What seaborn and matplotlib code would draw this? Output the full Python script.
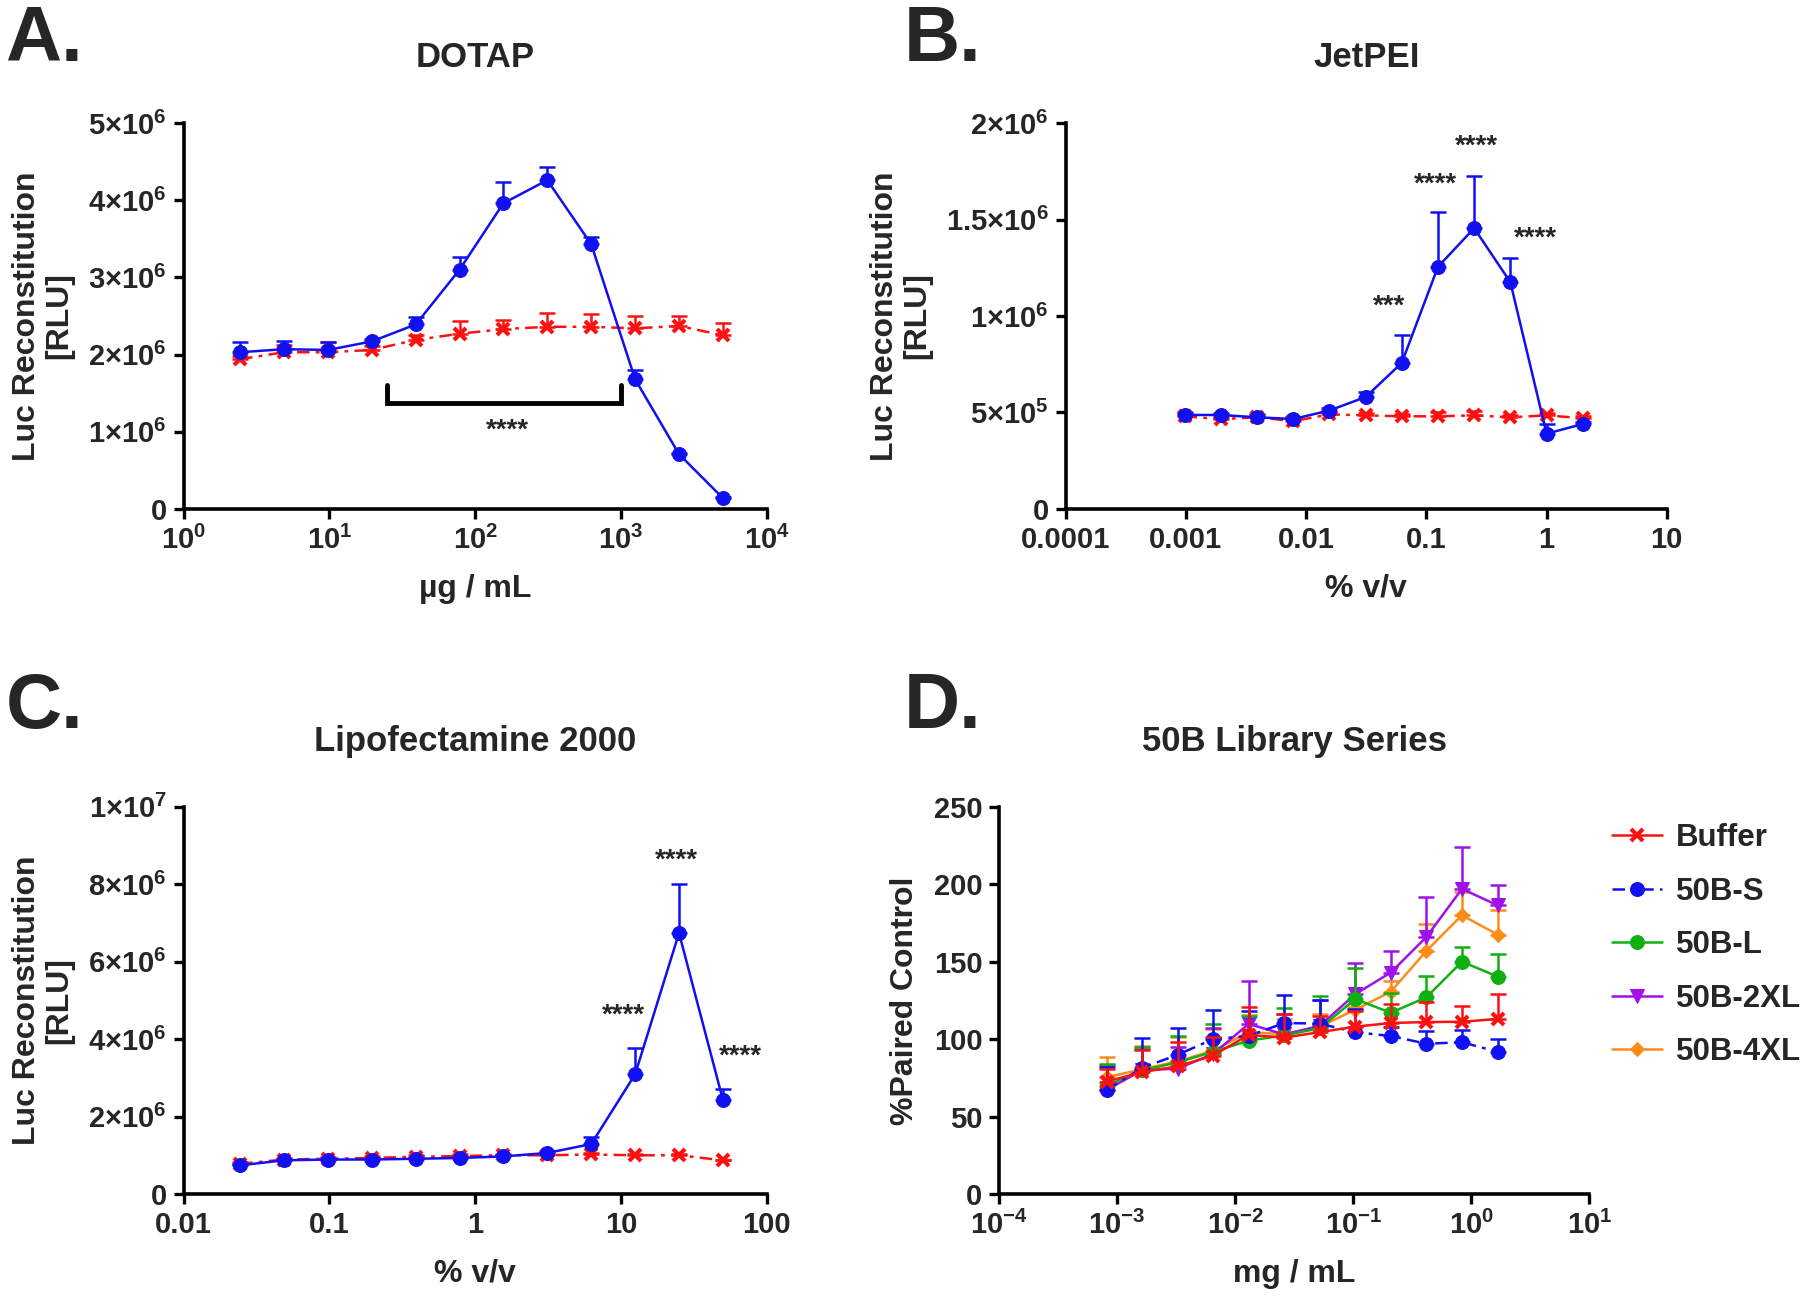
import matplotlib
matplotlib.use("Agg")
import matplotlib.pyplot as plt
import matplotlib.ticker as mticker
import numpy as np
import seaborn as sns

# ---- data ----
A_X = [2.44, 4.88, 9.77, 19.5, 39.1, 78.1, 156, 312, 625, 1250, 2500, 5000]
A_BLUE = [2.03, 2.07, 2.06, 2.17, 2.39, 3.10, 3.96, 4.26, 3.43, 1.68, 0.71, 0.14]
A_BLUE_ERR = [0.13, 0.11, 0.10, 0.03, 0.10, 0.17, 0.27, 0.17, 0.09, 0.12, 0.02, 0.01]
A_RED = [1.94, 2.03, 2.03, 2.06, 2.19, 2.27, 2.33, 2.36, 2.36, 2.34, 2.37, 2.25]
A_RED_ERR = [0.04, 0.09, 0.13, 0.05, 0.07, 0.16, 0.12, 0.18, 0.17, 0.16, 0.13, 0.16]

B_X = [0.000977, 0.00195, 0.0039, 0.0078, 0.0156, 0.0313, 0.0625, 0.125, 0.25, 0.5, 1, 2]
B_BLUE = [0.487, 0.487, 0.475, 0.466, 0.51, 0.58, 0.757, 1.255, 1.455, 1.175, 0.39, 0.44]
B_BLUE_ERR = [0.01, 0.01, 0.01, 0.01, 0.015, 0.026, 0.145, 0.285, 0.27, 0.125, 0.05, 0.01]
B_RED = [0.48, 0.465, 0.475, 0.455, 0.49, 0.485, 0.48, 0.48, 0.485, 0.475, 0.485, 0.47]
B_RED_ERR = [0.02, 0.01, 0.015, 0.01, 0.01, 0.01, 0.01, 0.02, 0.025, 0.01, 0.01, 0.01]

C_X = [0.0244, 0.0488, 0.0977, 0.195, 0.39, 0.781, 1.56, 3.13, 6.25, 12.5, 25, 50]
C_BLUE = [0.74, 0.87, 0.89, 0.89, 0.91, 0.93, 0.97, 1.06, 1.29, 3.09, 6.74, 2.43]
C_BLUE_ERR = [0.03, 0.03, 0.03, 0.03, 0.03, 0.03, 0.04, 0.05, 0.19, 0.67, 1.26, 0.28]
C_RED = [0.78, 0.89, 0.91, 0.93, 0.96, 0.98, 1.0, 1.0, 1.02, 1.0, 1.0, 0.87]
C_RED_ERR = [0.05, 0.03, 0.04, 0.05, 0.04, 0.05, 0.04, 0.03, 0.03, 0.02, 0.03, 0.02]

D_X = [0.000814, 0.00163, 0.00326, 0.00651, 0.013, 0.026, 0.052, 0.104, 0.208, 0.417, 0.833, 1.667]
D_BUFFER = [72.6, 78.7, 82.4, 89.4, 102.7, 101, 104.5, 108, 110.4, 111, 111.2, 113]
D_BUFFER_ERR = [8, 14, 16, 12, 18, 15.5, 10.5, 10, 12, 13, 10, 16]
D_S = [67.3, 81.4, 89.9, 100, 102, 110.4, 110, 104.5, 102, 97, 98, 91.8]
D_S_ERR = [15, 19, 17, 19, 16, 18, 15, 15, 6, 8, 8, 8]
D_L = [70, 79.8, 85, 91.8, 99, 102.4, 107, 125.8, 117, 127, 150, 140.4]
D_L_ERR = [14, 15, 17, 18, 16, 18, 21, 20, 13, 14, 9.5, 14.6]
D_2XL = [67.3, 79.8, 81, 90.4, 109.8, 103, 108.5, 129, 143, 166, 197, 186.4]
D_2XL_ERR = [16, 14, 14, 17, 28, 13, 17, 20, 14, 26, 27, 13]
D_4XL = [75.3, 80.6, 85.6, 92.5, 104.5, 103.2, 108, 119, 130.6, 157, 180, 167.5]
D_4XL_ERR = [13, 15, 16, 14, 11, 10, 8, 2, 7, 17, 15, 16]

# significance labels: (x, y, text)
B_STARS = [(0.049, 1.05e6, "***"), (0.118, 1.68e6, "****"),
           (0.26, 1.88e6, "****"), (0.81, 1.40e6, "****")]
C_STARS = [(10.4, 4.6e6, "****"), (24, 8.6e6, "****"), (66, 3.55e6, "****")]
A_BRACKET = (25, 1000, 1.37e6, 1.61e6)

BLUE = "#1010F0"
RED = "#FF1010"
GREEN = "#10B010"
PURPLE = "#A010E8"
ORANGE = "#FF8C1A"

sns.set_theme(style="ticks")
plt.rcParams["font.family"] = ["Liberation Sans", "DejaVu Sans"]
plt.rcParams["font.weight"] = "bold"
plt.rcParams["axes.labelweight"] = "bold"
plt.rcParams["axes.titleweight"] = "bold"
plt.rcParams["mathtext.fontset"] = "custom"
plt.rcParams["mathtext.rm"] = "Liberation Sans:bold"
plt.rcParams["mathtext.bf"] = "Liberation Sans:bold"
plt.rcParams["mathtext.it"] = "Liberation Sans:bold"
plt.rcParams["mathtext.default"] = "rm"

TICK_FS = 21
LABEL_FS = 23
TITLE_FS = 25
STAR_FS = 20
DASHDOT = (0, (5, 2.5, 1.5, 2.5))


def pow10(v, pos):
    return "10$^{%d}$" % int(round(np.log10(v)))


def sci(v, pos):
    if v == 0:
        return "0"
    e = int(np.floor(np.log10(v) + 1e-9))
    m = v / 10 ** e
    return ("%g" % round(m, 2)) + "×10$^{%d}$" % e


def plain(v, pos):
    return "%g" % v


def style_axes(ax, xlim, ylim, yticks, xfmt, yfmt):
    ax.set_xscale("log")
    ax.set_xlim(*xlim)
    ax.set_ylim(*ylim)
    ax.xaxis.set_major_locator(mticker.LogLocator(base=10, numticks=20))
    ax.xaxis.set_minor_locator(mticker.NullLocator())
    ax.xaxis.set_major_formatter(mticker.FuncFormatter(xfmt))
    ax.set_yticks(yticks)
    ax.yaxis.set_major_formatter(mticker.FuncFormatter(yfmt))
    for s in ["top", "right"]:
        ax.spines[s].set_visible(False)
    for s in ["left", "bottom"]:
        ax.spines[s].set_linewidth(2.6)
        ax.spines[s].set_color("black")
    ax.tick_params(axis="both", which="major", direction="out", length=7,
                   width=2.4, color="black", labelsize=TICK_FS, pad=5)
    for lab in ax.get_xticklabels() + ax.get_yticklabels():
        lab.set_fontweight("bold")


def draw_series(ax, x, y, err, color, marker, ls, label=None, ms=10, mew=None, z=3):
    x = np.asarray(x)
    y = np.asarray(y, dtype=float)
    err = np.asarray(err, dtype=float)
    ax.errorbar(x, y, yerr=[np.zeros_like(err), err], fmt="none", ecolor=color,
                elinewidth=1.8, capsize=5.5, capthick=1.8, zorder=z, clip_on=False)
    kw = dict(markeredgewidth=mew) if mew else {}
    sns.lineplot(x=x, y=y, ax=ax, color=color, marker=marker, markersize=ms,
                 markeredgecolor=color, linewidth=1.8, linestyle=ls, label=label,
                 zorder=z + 0.5, clip_on=False, **kw)


fig = plt.figure(figsize=(18, 12.95), dpi=100)
axA = fig.add_axes([0.102, 0.607, 0.324, 0.298])
axB = fig.add_axes([0.592, 0.607, 0.334, 0.298])
axC = fig.add_axes([0.102, 0.078, 0.324, 0.299])
axD = fig.add_axes([0.555, 0.078, 0.328, 0.299])

TITLE_PAD = 40

# ---- A. DOTAP ----
sA = 1e6
draw_series(axA, A_X, np.array(A_RED) * sA, np.array(A_RED_ERR) * sA, RED, "x", DASHDOT, ms=9, mew=3)
draw_series(axA, A_X, np.array(A_BLUE) * sA, np.array(A_BLUE_ERR) * sA, BLUE, "o", "-")
style_axes(axA, (1, 1e4), (0, 5e6), np.arange(0, 5.01e6, 1e6), pow10, sci)
x0, x1, yb, yt = A_BRACKET
axA.plot([x0, x0, x1, x1], [yt, yb, yb, yt], color="black", lw=3.5, solid_joinstyle="miter")
axA.text(np.sqrt(x0 * x1) * 1.05, yb - 0.36e6, "****", ha="center", va="center",
         fontsize=STAR_FS, fontweight="bold")
axA.set_title("DOTAP", fontsize=TITLE_FS, pad=TITLE_PAD)
axA.set_xlabel("µg / mL", fontsize=LABEL_FS, labelpad=14)
axA.set_ylabel("Luc Reconstitution\n[RLU]", fontsize=LABEL_FS, labelpad=10, linespacing=1.1)

# ---- B. JetPEI ----
draw_series(axB, B_X, np.array(B_RED) * sA, np.array(B_RED_ERR) * sA, RED, "x", DASHDOT, ms=9, mew=3)
draw_series(axB, B_X, np.array(B_BLUE) * sA, np.array(B_BLUE_ERR) * sA, BLUE, "o", "-")
style_axes(axB, (1e-4, 10), (0, 2e6), np.arange(0, 2.01e6, 5e5), plain, sci)
for x, y, t in B_STARS:
    axB.text(x, y, t, ha="center", va="center", fontsize=STAR_FS, fontweight="bold")
axB.set_title("JetPEI", fontsize=TITLE_FS, pad=TITLE_PAD)
axB.set_xlabel("% v/v", fontsize=LABEL_FS, labelpad=14)
axB.set_ylabel("Luc Reconstitution\n[RLU]", fontsize=LABEL_FS, labelpad=10, linespacing=1.1)

# ---- C. Lipofectamine 2000 ----
draw_series(axC, C_X, np.array(C_RED) * sA, np.array(C_RED_ERR) * sA, RED, "x", DASHDOT, ms=9, mew=3)
draw_series(axC, C_X, np.array(C_BLUE) * sA, np.array(C_BLUE_ERR) * sA, BLUE, "o", "-")
style_axes(axC, (0.01, 100), (0, 1e7), np.arange(0, 1.001e7, 2e6), plain, sci)
for x, y, t in C_STARS:
    axC.text(x, y, t, ha="center", va="center", fontsize=STAR_FS, fontweight="bold")
axC.set_title("Lipofectamine 2000", fontsize=TITLE_FS, pad=TITLE_PAD)
axC.set_xlabel("% v/v", fontsize=LABEL_FS, labelpad=14)
axC.set_ylabel("Luc Reconstitution\n[RLU]", fontsize=LABEL_FS, labelpad=10, linespacing=1.1)

# ---- D. 50B Library Series ----
draw_series(axD, D_X, D_4XL, D_4XL_ERR, ORANGE, "D", "-", label="50B-4XL", ms=7, z=3)
draw_series(axD, D_X, D_2XL, D_2XL_ERR, PURPLE, "v", "-", label="50B-2XL", ms=10, z=4)
draw_series(axD, D_X, D_L, D_L_ERR, GREEN, "o", "-", label="50B-L", ms=10, z=5)
draw_series(axD, D_X, D_S, D_S_ERR, BLUE, "o", DASHDOT, label="50B-S", ms=10, z=6)
draw_series(axD, D_X, D_BUFFER, D_BUFFER_ERR, RED, "x", "-", label="Buffer", ms=9, mew=3, z=7)
style_axes(axD, (1e-4, 10), (0, 250), np.arange(0, 251, 50), pow10, plain)
axD.set_title("50B Library Series", fontsize=TITLE_FS, pad=TITLE_PAD)
axD.set_xlabel("mg / mL", fontsize=LABEL_FS, labelpad=14)
axD.set_ylabel("%Paired Control", fontsize=LABEL_FS, labelpad=10)
handles, labels = axD.get_legend_handles_labels()
order = ["Buffer", "50B-S", "50B-L", "50B-2XL", "50B-4XL"]
hmap = dict(zip(labels, handles))
axD.legend([hmap[k] for k in order], order, loc="upper left", bbox_to_anchor=(0.99, 1.03),
           frameon=False, handlelength=1.6, handletextpad=0.45, labelspacing=0.75,
           prop={"weight": "bold", "size": 22.5})
for ax in [axA, axB, axC]:
    leg = ax.get_legend()
    if leg is not None:
        leg.remove()

# panel letters
for x, y, t in [(0.003, 0.997, "A."), (0.502, 0.997, "B."), (0.003, 0.482, "C."), (0.502, 0.482, "D.")]:
    fig.text(x, y, t, fontsize=56, fontweight="bold", ha="left", va="top")

fig.savefig("out.png", dpi=100)
